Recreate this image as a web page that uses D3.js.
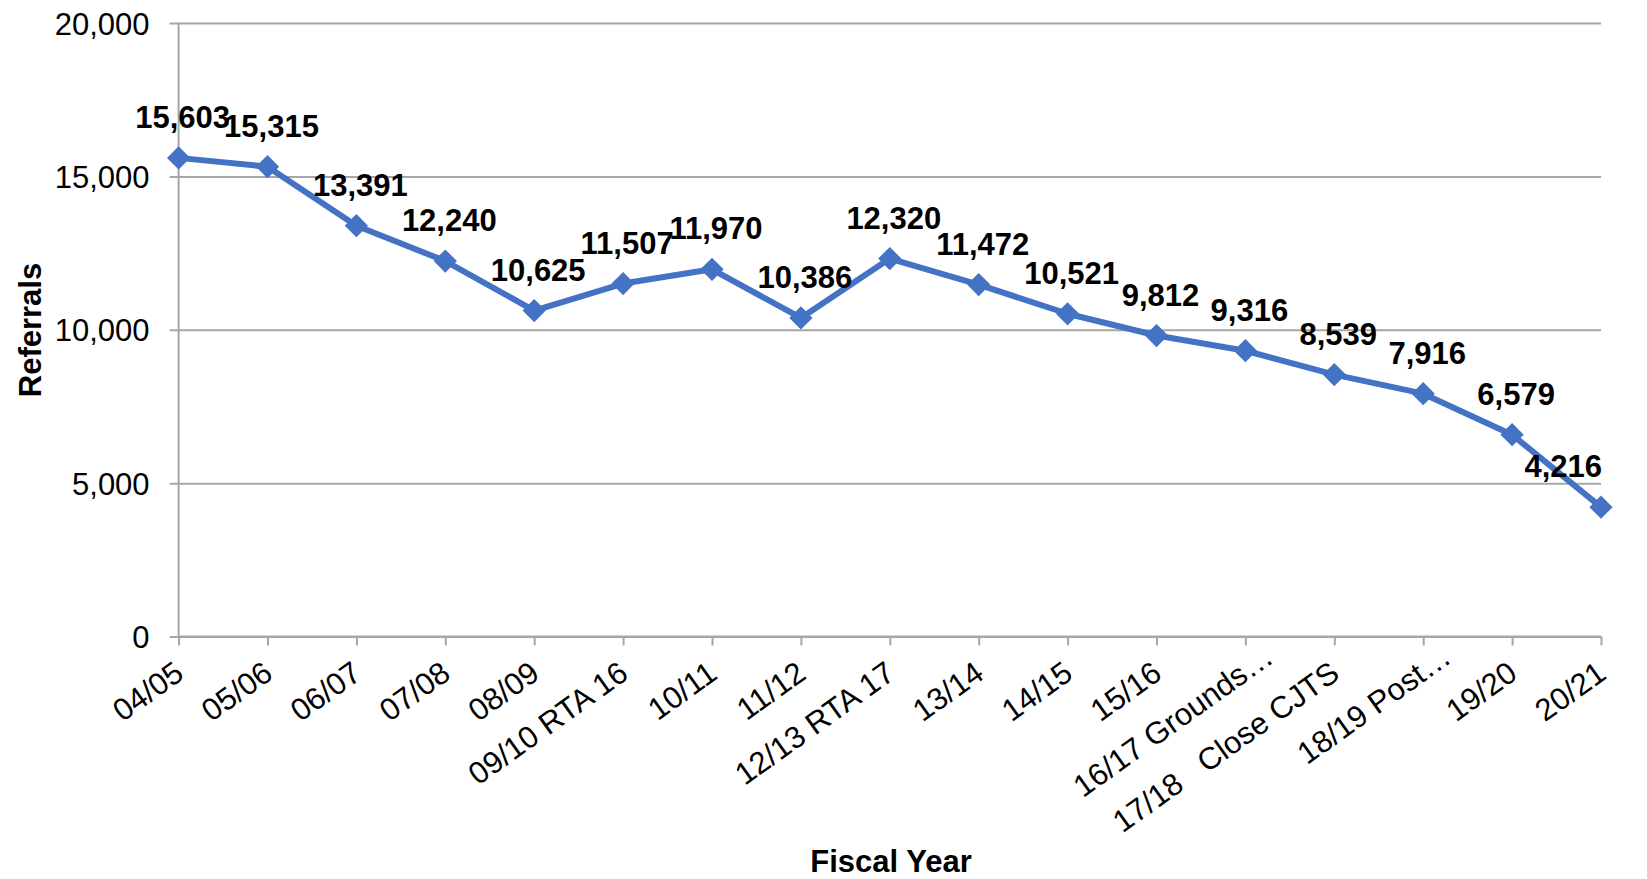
<!DOCTYPE html>
<html>
<head>
<meta charset="utf-8">
<script src="https://cdn.jsdelivr.net/npm/d3@7"></script>
<style>
  body { margin: 0; background: #fff; }
  svg { display: block; font-family: "Liberation Sans", Arial, sans-serif; }
</style>
</head>
<body>
<svg id="chart" width="1647" height="879"></svg>
<script>
const categories = ["04/05","05/06","06/07","07/08","08/09","09/10 RTA 16","10/11","11/12","12/13 RTA 17","13/14","14/15","15/16","16/17 Grounds…","17/18   Close CJTS","18/19 Post…","19/20","20/21"];
const referrals = [15603,15315,13391,12240,10625,11507,11970,10386,12320,11472,10521,9812,9316,8539,7916,6579,4216];
const yTicks = [0,5000,10000,15000,20000];
const yTitle = "Referrals";
const xTitle = "Fiscal Year";

const m = {left: 178.6, right: 1601, top: 23, bottom: 636.5};
const svg = d3.select("#chart");
const fmt = d3.format(",");
const blue = "#4472C4";
const grid = "#A6A6A6";
const FS = 31;

const x = d3.scalePoint().domain(categories).range([m.left, m.right]);
const y = d3.scaleLinear().domain([0, 20000]).range([m.bottom, m.top]);

// gridlines + y axis
const yAxis = d3.axisLeft(y).tickValues(yTicks).tickFormat(fmt).tickSize(-(m.right - m.left));
const gy = svg.append("g").attr("transform", `translate(${m.left},0)`).call(yAxis);
gy.select(".domain").remove();
gy.selectAll(".tick line").attr("stroke", grid).attr("stroke-width", 2).attr("x1", -9);
gy.selectAll(".tick text").attr("font-size", FS).attr("fill", "#000").attr("x", -29).attr("dy", "0.36em");

svg.append("line").attr("x1", m.left).attr("x2", m.left).attr("y1", m.top).attr("y2", m.bottom)
  .attr("stroke", grid).attr("stroke-width", 2);

// x axis
const xAxis = d3.axisBottom(x).tickSize(9).tickFormat("");
const gx = svg.append("g").attr("transform", `translate(0,${m.bottom})`).call(xAxis);
gx.select(".domain").attr("stroke", grid).attr("stroke-width", 2).attr("d", `M${m.left},0H${m.right}`);
gx.selectAll(".tick line").attr("stroke", grid).attr("stroke-width", 2);

svg.append("g").selectAll("text").data(categories).join("text")
  .attr("transform", d => `translate(${x(d) + 7},${m.bottom + 41}) rotate(-35.5)`)
  .attr("text-anchor", "end")
  .attr("dx", d => d.endsWith("…") ? 28 : 0)
  .attr("font-size", FS)
  .attr("fill", "#000")
  .style("white-space", "pre")
  .text(d => d);

// line
const line = d3.line().x((d, i) => x(categories[i])).y(d => y(d));
svg.append("path").datum(referrals).attr("d", line).attr("fill", "none")
  .attr("stroke", blue).attr("stroke-width", 6).attr("stroke-linejoin", "round");

// markers (diamonds)
svg.append("g").selectAll("path").data(referrals).join("path")
  .attr("transform", (d, i) => `translate(${x(categories[i])},${y(d)}) rotate(45)`)
  .attr("d", d3.symbol().type(d3.symbolSquare).size(270))
  .attr("fill", blue);

// data labels
svg.append("g").selectAll("text").data(referrals).join("text")
  .attr("x", (d, i) => x(categories[i]) + 4)
  .attr("y", d => y(d) - 30)
  .attr("text-anchor", "middle")
  .attr("font-size", FS)
  .attr("font-weight", "bold")
  .attr("fill", "#000")
  .text(d => fmt(d))
  .each(function() {
    const w = this.getComputedTextLength();
    const cx = +this.getAttribute("x");
    if (cx + w / 2 > m.right + 1) this.setAttribute("x", m.right + 1 - w / 2);
  });

// titles
svg.append("text").attr("transform", `translate(41,330) rotate(-90)`)
  .attr("text-anchor", "middle").attr("font-size", FS).attr("font-weight", "bold").text(yTitle);
svg.append("text").attr("x", 891).attr("y", 872)
  .attr("text-anchor", "middle").attr("font-size", FS).attr("font-weight", "bold").text(xTitle);
</script>
</body>
</html>
